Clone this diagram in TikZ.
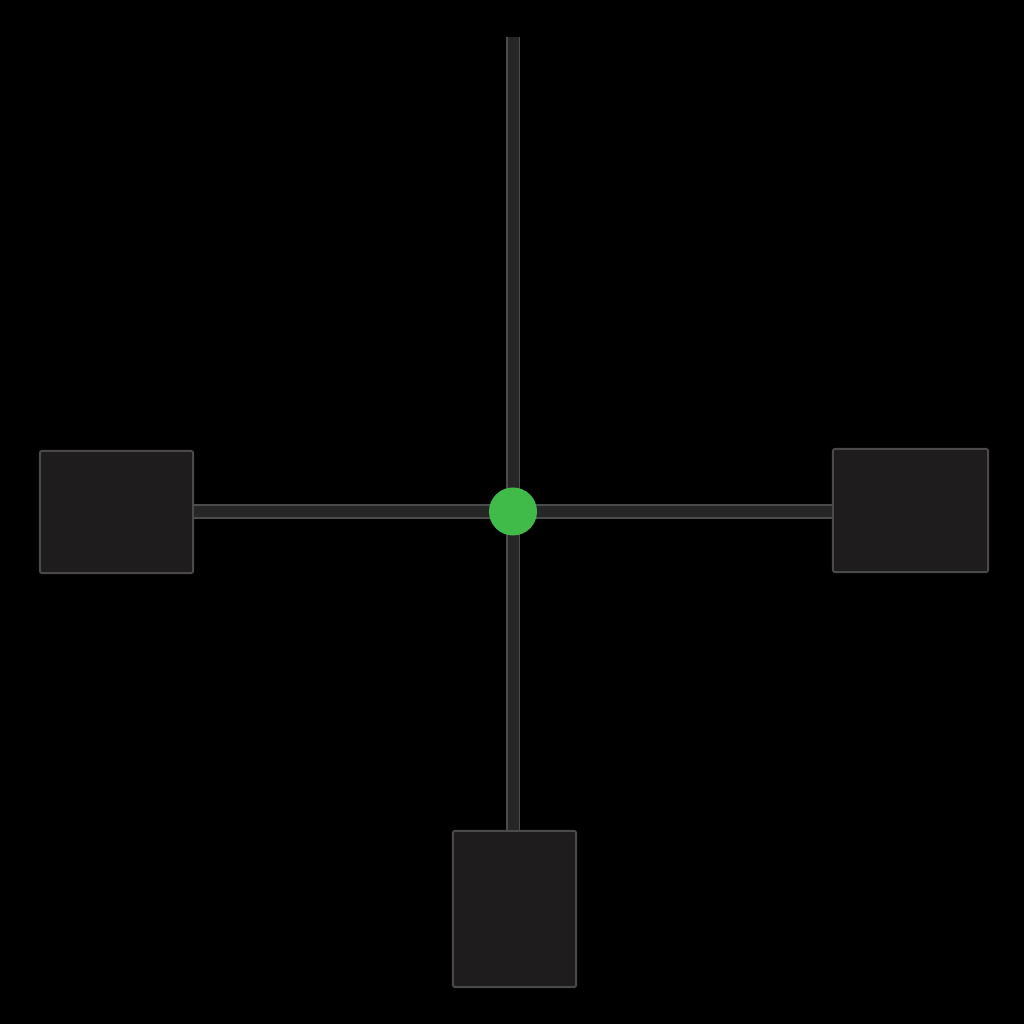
\documentclass[tikz,border=0pt]{standalone}
\begin{document}
\begin{tikzpicture}[x=0.01cm,y=-0.01cm,
  pad/.style={rectangle, draw=padedge, fill=padfill, line width=0.02cm, inner sep=0pt, rounded corners=0.02cm},
  hubdot/.style={circle, fill=hubgreen, inner sep=0pt, minimum size=0.48cm},
  arm/.style={draw=armedge, double=armfill, double distance=0.11cm, line width=0.018cm}]
\definecolor{padfill}{HTML}{1E1C1D}
\definecolor{padedge}{HTML}{4A4A4A}
\definecolor{armfill}{HTML}{262626}
\definecolor{armedge}{HTML}{4C4C4C}
\definecolor{hubgreen}{HTML}{40BA48}
\fill[black] (0,0) rectangle (1024,1024);
\useasboundingbox (0,0) rectangle (1024,1024);
\node[pad, minimum width=1.53cm, minimum height=1.22cm] (left) at (116.5,512) {};
\node[pad, minimum width=1.55cm, minimum height=1.23cm] (right) at (910.5,510.5) {};
\node[pad, minimum width=1.23cm, minimum height=1.56cm] (bottom) at (514.5,909) {};
\coordinate (top) at (513,37);
\coordinate (hubc) at (513,511.5);
\draw[arm] (top) -- (hubc |- bottom.north);
\draw[arm] (left.east |- hubc) -- (right.west |- hubc);
\node[hubdot] (hub) at (hubc) {};
\end{tikzpicture}
\end{document}
